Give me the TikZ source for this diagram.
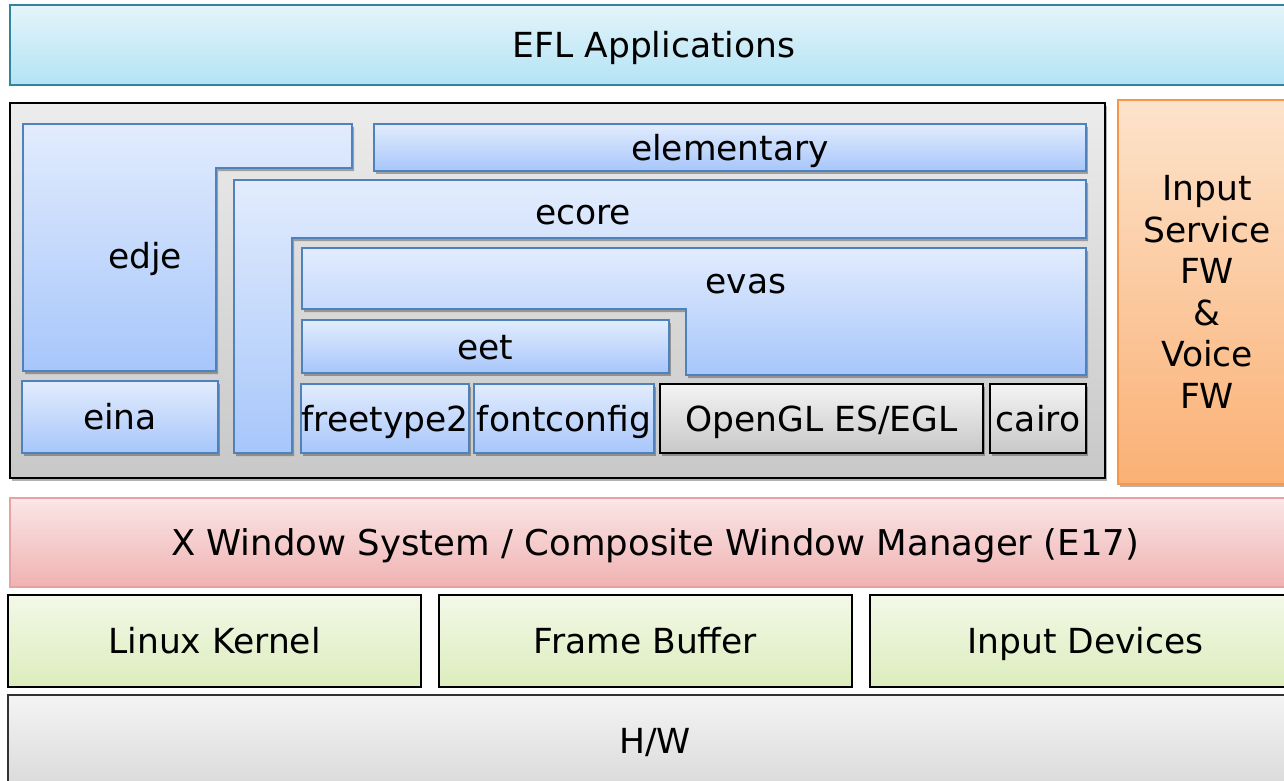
\documentclass[tikz,border=0pt]{standalone}
\usepackage{fontspec}
\setmainfont{DejaVu Sans}
\usetikzlibrary{shadows}
\definecolor{btop}{HTML}{E2ECFD}
\definecolor{bbot}{HTML}{A7C6FB}
\definecolor{bbord}{HTML}{4F81BD}
\definecolor{etop}{HTML}{E4F4FA}
\definecolor{ebot}{HTML}{B3E3F4}
\definecolor{ebord}{HTML}{31849B}
\definecolor{ctop}{HTML}{ECECEC}
\definecolor{cbot}{HTML}{C8C8C8}
\definecolor{otop}{HTML}{FDE3CB}
\definecolor{obot}{HTML}{FAB074}
\definecolor{obord}{HTML}{F79646}
\definecolor{ptop}{HTML}{FAE6E6}
\definecolor{pbot}{HTML}{F0B2B2}
\definecolor{pbord}{HTML}{E6A3A3}
\definecolor{gtop}{HTML}{F3F8E8}
\definecolor{gbot}{HTML}{DCEDBC}
\definecolor{htop}{HTML}{F4F4F4}
\definecolor{hbot}{HTML}{D9D9D9}
\tikzset{
  lbl/.style={font=\fontsize{34.5}{41}\selectfont, text=black, text height=25pt, text depth=0pt},
  shd/.style={drop shadow={shadow xshift=2pt, shadow yshift=-3pt, opacity=0.3, fill=black}},
  bluebox/.style={draw=bbord, line width=2pt, top color=btop, bottom color=bbot, shd},
  nbox/.style={inner sep=0pt, outer sep=0pt, lbl},
  efl/.style={nbox, draw=ebord, line width=2pt, top color=etop, bottom color=ebot},
  cont/.style={nbox, draw=black, line width=2pt, top color=ctop, bottom color=cbot, shd},
  grayb/.style={nbox, draw=black, line width=2pt, top color=ctop!60!white, bottom color=cbot, shd},
  bnode/.style={nbox, bluebox},
  orange/.style={inner sep=0pt, outer sep=0pt, draw=obord, line width=2pt, top color=otop, bottom color=obot, shd, align=center},
  pink/.style={nbox, draw=pbord, line width=1.5pt, top color=ptop, bottom color=pbot},
  green/.style={nbox, draw=black, line width=2pt, top color=gtop, bottom color=gbot},
  hw/.style={nbox, draw=black!80, line width=2pt, top color=htop, bottom color=hbot},
}
\begin{document}
\begin{tikzpicture}[x=1pt,y=-1pt]
\useasboundingbox (0,0) rectangle (1284,780);
% EFL applications
\node[efl, minimum width=1288pt, minimum height=80pt] (efl) at (654,45) {EFL Applications};
% container
\node[cont, minimum width=1095pt, minimum height=375pt] (cont) at (557.5,290.5) {};
% input service
\node[orange, minimum width=178pt, minimum height=384pt, text width=170pt, font=\fontsize{34.5}{41.5}\selectfont] (isf) at (1207,292) {Input\\Service\\FW\\\&\\Voice\\FW\\[41pt]};
% edje
\path[bluebox] (23,124) -- (352,124) -- (352,168) -- (216,168) -- (216,371) -- (23,371) -- cycle;
\node[lbl] (edje) at (145,256) {edje};
% elementary
\node[bnode, minimum width=712pt, minimum height=47pt] (elem) at (730,147.5) {elementary};
% ecore
\path[bluebox] (234,180) -- (1086,180) -- (1086,238) -- (292,238) -- (292,453) -- (234,453) -- cycle;
\node[lbl] (ecore) at (583,212) {ecore};
% evas
\path[bluebox] (302,248) -- (1086,248) -- (1086,375) -- (686,375) -- (686,309) -- (302,309) -- cycle;
\node[lbl] (evas) at (746,281) {evas};
% eet
\node[bnode, minimum width=367pt, minimum height=53pt] (eet) at (485.5,346.5) {eet};
% eina
\node[bnode, minimum width=196pt, minimum height=72pt] (eina) at (120,417) {eina};
% bottom row
\node[bnode, minimum width=164pt, minimum height=69pt] (ft) at (385,418.5) {freetype2};
\node[bnode, minimum width=180pt, minimum height=69pt] (fc) at (564,418.5) {fontconfig};
\node[grayb, minimum width=323pt, minimum height=69pt] (gl) at (821.5,418.5) {OpenGL ES/EGL};
\node[grayb, minimum width=96pt, minimum height=69pt] (cairo) at (1038,418.5) {cairo};
% X window
\node[pink, minimum width=1290pt, minimum height=89pt, font=\fontsize{35.5}{42}\selectfont] (xw) at (655,542.5) {X Window System / Composite Window Manager (E17)};
% kernel row
\node[green, minimum width=413pt, minimum height=92pt] (lk) at (214.5,641) {Linux Kernel};
\node[green, minimum width=413pt, minimum height=92pt] (fb) at (645.5,641) {Frame Buffer};
\node[green, minimum width=431pt, minimum height=92pt] (id) at (1085.5,641) {Input Devices};
% HW
\node[hw, minimum width=1294pt, minimum height=95pt] (hw) at (655,742.5) {};
\node[lbl] (hwl) at (655,741) {H/W};
\end{tikzpicture}
\end{document}
